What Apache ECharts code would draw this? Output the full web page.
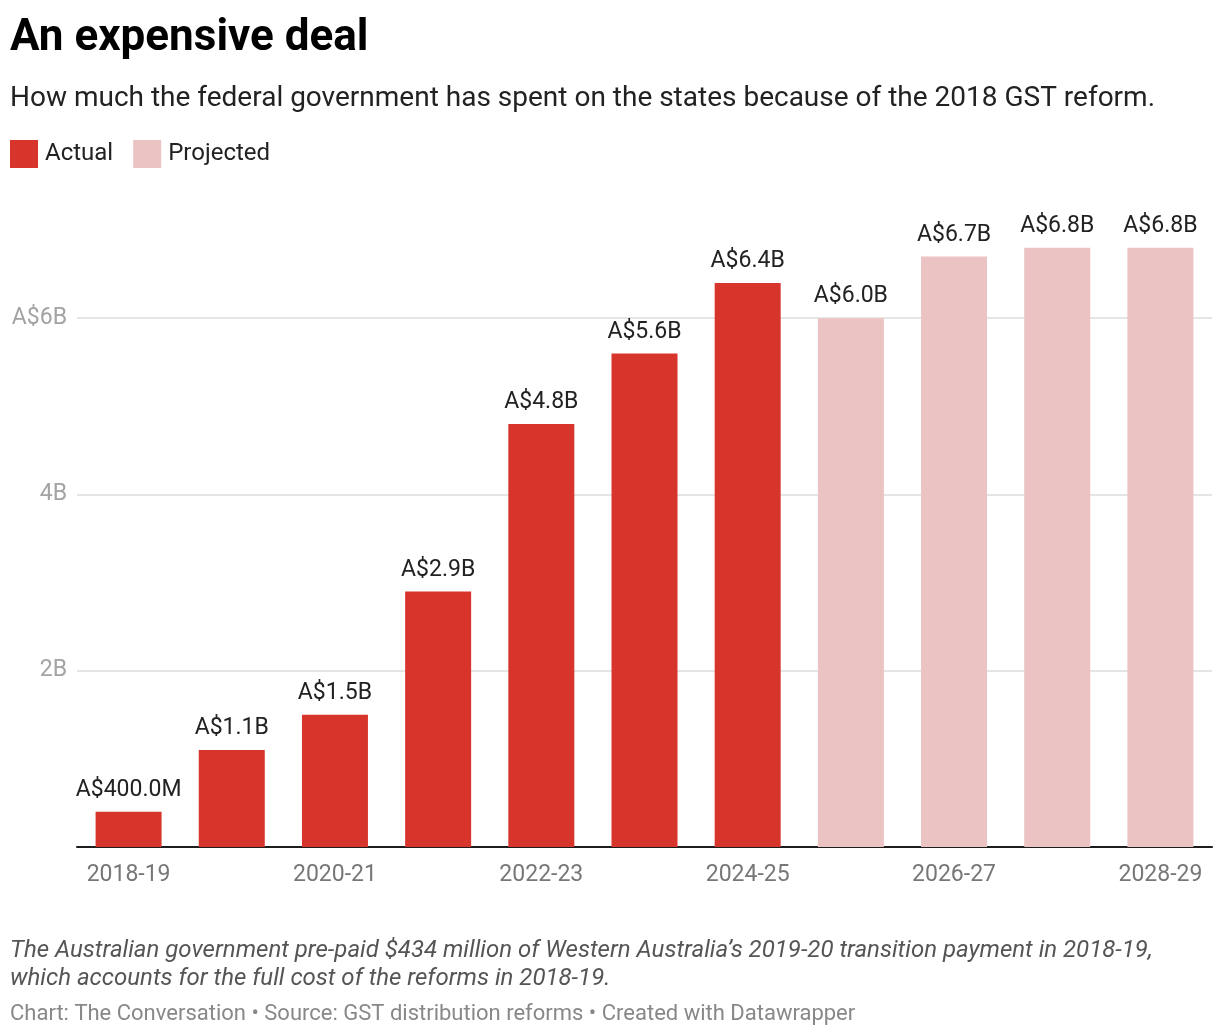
<!DOCTYPE html>
<html>
<head>
<meta charset="utf-8">
<script src="https://cdn.jsdelivr.net/npm/echarts@6/dist/echarts.min.js"></script>
<style>
  html, body { margin: 0; padding: 0; background: #fff; }
  #chart { width: 1220px; height: 1036px; }
</style>
</head>
<body>
<div id="chart"></div>
<script>
// Financial years on the x axis
const years = ["2018-19", "2019-20", "2020-21", "2021-22", "2022-23", "2023-24",
  "2024-25", "2025-26", "2026-27", "2027-28", "2028-29"];

// Spending in A$ billions (null where the other series applies)
const actual = [0.4, 1.1, 1.5, 2.9, 4.8, 5.6, 6.4, null, null, null, null];
const projected = [null, null, null, null, null, null, null, 6.0, 6.7, 6.8, 6.8];

// Y-axis tick labels
const yTickLabels = { 2: "2B", 4: "4B", 6: "A$6B" };

const RED = "#d7352b";
const PINK = "#ebc3c3";
const FONT = "Roboto";

function fmtValue(v) {
  if (v < 1) return "A$" + (v * 1000).toFixed(1) + "M";
  return "A$" + v.toFixed(1) + "B";
}

const barLabel = {
  show: true,
  position: "top",
  distance: 10,
  fontFamily: FONT,
  fontSize: 23,
  color: "#222",
  formatter: function (p) { return fmtValue(p.value); }
};

const chart = echarts.init(document.getElementById("chart"));

chart.setOption({
  animation: false,
  textStyle: { fontFamily: FONT },
  title: [
    {
      text: "An expensive deal",
      left: 5, top: 12,
      textStyle: { fontFamily: FONT, fontSize: 44, fontWeight: "bold", color: "#000" }
    },
    {
      text: "How much the federal government has spent on the states because of the 2018 GST reform.",
      left: 5, top: 80,
      textStyle: { fontFamily: FONT, fontSize: 28, fontWeight: "normal", color: "#222" }
    },
    {
      text: "The Australian government pre-paid $434 million of Western Australia\u2019s 2019-20 transition payment in 2018-19,\nwhich accounts for the full cost of the reforms in 2018-19.",
      left: 5, top: 932,
      textStyle: { fontFamily: FONT, fontSize: 24, fontStyle: "italic", fontWeight: "normal", color: "#555", lineHeight: 28 }
    },
    {
      text: "Chart: The Conversation \u2022 Source: GST distribution reforms \u2022 Created with Datawrapper",
      left: 5, top: 998,
      textStyle: { fontFamily: FONT, fontSize: 22, fontWeight: "normal", color: "#888" }
    }
  ],
  legend: {
    left: 5, top: 135,
    icon: "rect",
    itemWidth: 28, itemHeight: 28,
    itemGap: 20,
    textStyle: { fontFamily: FONT, fontSize: 24, color: "#222", padding: [0, 0, 0, 2] },
    data: ["Actual", "Projected"]
  },
  grid: { left: 77, right: 8, top: 230, bottom: 189 },
  xAxis: {
    type: "category",
    data: years,
    axisLine: { lineStyle: { color: "#1d1d1d", width: 2 } },
    axisTick: { show: false },
    axisLabel: {
      interval: 1,
      margin: 17,
      fontFamily: FONT,
      fontSize: 23,
      color: "#777"
    }
  },
  yAxis: {
    type: "value",
    min: 0, max: 7, interval: 2,
    axisLine: { show: false },
    axisTick: { show: false },
    axisLabel: {
      align: "right",
      margin: 10,
      fontFamily: FONT,
      fontSize: 23,
      color: "#a3a3a3",
      formatter: function (v) { return yTickLabels[v] || ""; }
    },
    splitLine: {
      lineStyle: {
        color: ["#e5e5e5", "#e5e5e5", "#e5e5e5", "#e5e5e5", "rgba(0,0,0,0)"],
        width: 2
      }
    }
  },
  series: [
    {
      name: "Actual",
      type: "bar",
      stack: "total",
      barWidth: 66,
      data: actual,
      itemStyle: { color: RED },
      label: barLabel
    },
    {
      name: "Projected",
      type: "bar",
      stack: "total",
      barWidth: 66,
      data: projected,
      itemStyle: { color: PINK },
      label: barLabel
    }
  ]
});
</script>
</body>
</html>
